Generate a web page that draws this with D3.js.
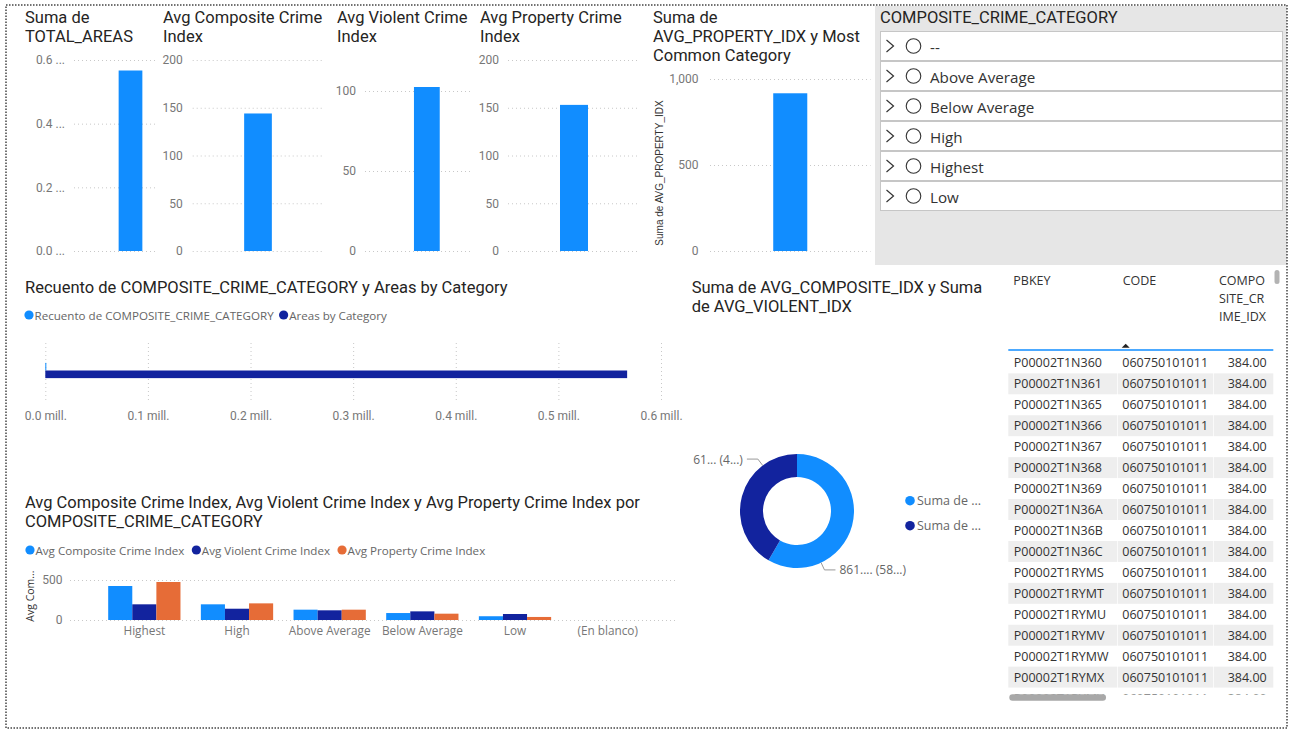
<!DOCTYPE html>
<html>
<head>
<meta charset="utf-8">
<title>Crime Index Dashboard</title>
<script src="https://cdn.jsdelivr.net/npm/d3@7"></script>
<style>
  body { margin: 0; background: #fff; }
  svg { display: block; }
  .title { font-family: Roboto, sans-serif; font-size: 16.5px; fill: #252423; }
  .tick-label { font-family: Roboto, sans-serif; font-size: 12px; fill: #777; }
  .legend-text { font-family: "Open Sans", sans-serif; font-size: 11.6px; fill: #666; }
  .cat-label { font-family: "Open Sans", sans-serif; font-size: 11.8px; fill: #777; }
  .cell { font-family: "Open Sans", sans-serif; font-size: 12.5px; fill: #333; }
</style>
</head>
<body>
<svg id="dash" width="1292" height="736"></svg>
<script>
// ---------- data ----------
const totalAreas = [0.567];          // mill.
const avgCompositeIndex = [144];
const avgViolentIndex = [102.5];
const avgPropertyIndex = [153];
const sumPropertyIdx = [917];

const areaTicks = [0, 0.2, 0.4, 0.6];
const areaTickLabels = ["0.0 ...", "0.2 ...", "0.4 ...", "0.6 ..."];
const indexTicks = [0, 50, 100, 150, 200];
const violentTicks = [0, 50, 100];
const propertySumTicks = [0, 500, 1000];

const slicerItems = ["--", "Above Average", "Below Average", "High", "Highest", "Low"];

const countSeries = ["Recuento de COMPOSITE_CRIME_CATEGORY", "Areas by Category"];
const countValues = [1000, 567000];
const millTicks = [0, 100000, 200000, 300000, 400000, 500000, 600000];

const donutSeries = ["Suma de AVG_COMPOSITE_IDX", "Suma de AVG_VIOLENT_IDX"];
const donutValues = [861, 615];
const donutLabels = ["861.... (58...)", "61... (4...)"];
const donutLegend = ["Suma de ...", "Suma de ..."];

const crimeCategories = ["Highest", "High", "Above Average", "Below Average", "Low", "(En blanco)"];
const crimeSeries = ["Avg Composite Crime Index", "Avg Violent Crime Index", "Avg Property Crime Index"];
const compositeByCat = [425, 196, 129, 87, 47, null];
const violentByCat = [196, 141, 121, 108, 75, null];
const propertyByCat = [475, 208, 129, 79, 38, null];

const tablePbkeys = ["P00002T1N360", "P00002T1N361", "P00002T1N365", "P00002T1N366", "P00002T1N367",
  "P00002T1N368", "P00002T1N369", "P00002T1N36A", "P00002T1N36B", "P00002T1N36C", "P00002T1RYMS",
  "P00002T1RYMT", "P00002T1RYMU", "P00002T1RYMV", "P00002T1RYMW", "P00002T1RYMX", "P00002T1RYMY"];
const tableCodes = ["060750101011", "060750101011", "060750101011", "060750101011", "060750101011",
  "060750101011", "060750101011", "060750101011", "060750101011", "060750101011", "060750101011",
  "060750101011", "060750101011", "060750101011", "060750101011", "060750101011", "060750101011"];
const tableIdx = [384, 384, 384, 384, 384, 384, 384, 384, 384, 384, 384, 384, 384, 384, 384, 384, 384];

const colors = ["#118DFF", "#12239E", "#E66C37"];

// ---------- helpers ----------
const svg = d3.select("#dash");

function styleAxis(g) {
  g.attr("font-family", null).attr("font-size", null);
  g.select(".domain").remove();
  g.selectAll(".tick line").attr("stroke", "#c8c8c8").attr("stroke-dasharray", "1,3");
  g.selectAll(".tick text").attr("class", "tick-label").attr("fill", null);
}

function titleLines(g, lines, x, y0) {
  lines.forEach((t, i) => {
    g.append("text").attr("class", "title").attr("x", x).attr("y", y0 + i * 19).text(t);
  });
}

// legend: dot + text, laid out left to right
function legend(g, names, x0, y, cols, gap) {
  let x = x0;
  names.forEach((n, i) => {
    g.append("circle").attr("cx", x).attr("cy", y).attr("r", 4.6).attr("fill", cols[i]);
    const t = g.append("text").attr("class", "legend-text").attr("x", x + 5.5).attr("y", y)
      .attr("dominant-baseline", "central").text(n);
    x += 5.5 + t.node().getComputedTextLength() + gap;
  });
}

// ---------- single-bar cards ----------
// plotX is the full plot area; gridEnd is where the next visual starts covering it
function cardChart(cfg) {
  const g = svg.append("g");
  titleLines(g, cfg.title, cfg.x, 22.7);

  const y = d3.scaleLinear().domain(cfg.domain).range(cfg.yRange);
  const x = d3.scaleBand().domain(["v"]).range(cfg.plotX).padding(cfg.pad);
  const gridEnd = cfg.gridEnd || cfg.plotX[1];

  const axis = d3.axisLeft(y)
    .tickValues(cfg.ticks)
    .tickSize(-(gridEnd - cfg.plotX[0]))
    .tickPadding(cfg.tickPad)
    .tickFormat((d, i) => cfg.labels ? cfg.labels[i] : d3.format(",")(d));
  const ag = g.append("g").attr("transform", `translate(${cfg.plotX[0]},0)`).call(axis);
  styleAxis(ag);

  g.selectAll("rect.bar").data(cfg.values).join("rect")
    .attr("class", "bar")
    .attr("x", x("v"))
    .attr("width", x.bandwidth())
    .attr("y", d => y(d))
    .attr("height", d => y(0) - y(d))
    .attr("fill", colors[0]);

  if (cfg.axisTitle) {
    g.append("text")
      .attr("transform", `translate(${cfg.axisTitle.x},${(cfg.yRange[0] + cfg.yRange[1]) / 2 + 8}) rotate(-90)`)
      .attr("text-anchor", "middle")
      .style("font-family", "'Liberation Sans', Arial, sans-serif")
      .style("font-size", "10px")
      .style("fill", "#333")
      .text(cfg.axisTitle.text);
  }
}

cardChart({ title: ["Suma de", "TOTAL_AREAS"], x: 25, plotX: [74, 187], gridEnd: 156, pad: 0.653,
  domain: [0, 0.6], yRange: [251, 60], ticks: areaTicks, labels: areaTickLabels, tickPad: 9, values: totalAreas });
cardChart({ title: ["Avg Composite Crime", "Index"], x: 163, plotX: [192.7, 323.3], pad: 0.65,
  domain: [0, 200], yRange: [251, 60], ticks: indexTicks, tickPad: 10, values: avgCompositeIndex });
cardChart({ title: ["Avg Violent Crime", "Index"], x: 337, plotX: [365, 488.7], gridEnd: 471.7, pad: 0.655,
  domain: [0, 100], yRange: [251, 91], ticks: violentTicks, tickPad: 9, values: avgViolentIndex });
cardChart({ title: ["Avg Property Crime", "Index"], x: 480, plotX: [508, 640], pad: 0.65,
  domain: [0, 200], yRange: [251, 60], ticks: indexTicks, tickPad: 9, values: avgPropertyIndex });
cardChart({ title: ["Suma de", "AVG_PROPERTY_IDX y Most", "Common Category"], x: 653, plotX: [710, 870.5], pad: 0.65,
  domain: [0, 1000], yRange: [251, 79], ticks: propertySumTicks, tickPad: 11.5, values: sumPropertyIdx,
  axisTitle: { x: 663, text: "Suma de AVG_PROPERTY_IDX" } });

// ---------- slicer ----------
{
  const g = svg.append("g");
  g.append("rect").attr("x", 875).attr("y", 6).attr("width", 412).attr("height", 259).attr("fill", "#e6e6e6");
  g.append("text").attr("class", "title").attr("x", 880).attr("y", 22.7).text("COMPOSITE_CRIME_CATEGORY");
  const item = g.selectAll("g.item").data(slicerItems).join("g")
    .attr("class", "item")
    .attr("transform", (d, i) => `translate(880.5,${31.5 + i * 30})`);
  item.append("rect").attr("width", 402).attr("height", 29).attr("fill", "#fff").attr("stroke", "#c6c6c6");
  item.append("path").attr("d", "M6,8.5L13,14.5L6,20.5").attr("fill", "none").attr("stroke", "#333").attr("stroke-width", 1.2);
  item.append("circle").attr("cx", 33).attr("cy", 14.5).attr("r", 7.3).attr("fill", "none").attr("stroke", "#333").attr("stroke-width", 1.1);
  item.append("text").attr("x", 49.5).attr("y", 15).attr("dominant-baseline", "central")
    .style("font-family", "'Open Sans', sans-serif").style("font-size", "15.2px").style("fill", "#333")
    .text(d => d);
}

// ---------- horizontal clustered bar ----------
{
  const g = svg.append("g");
  g.append("text").attr("class", "title").attr("x", 25).attr("y", 293.3)
    .text("Recuento de COMPOSITE_CRIME_CATEGORY y Areas by Category");
  legend(g, countSeries, 29, 315, colors, 10);

  const x = d3.scaleLinear().domain([0, 600000]).range([45.3, 661]);
  const y = d3.scaleBand().domain(["all"]).range([340, 401]).padding(0.6);
  const ys = d3.scaleBand().domain(countSeries).range([0, y.bandwidth()]);

  const ag = g.append("g").attr("transform", "translate(0,400)")
    .call(d3.axisBottom(x).tickValues(millTicks).tickSize(-60).tickPadding(11)
      .tickFormat(d => d3.format(".1f")(d / 1e6) + " mill."));
  styleAxis(ag);

  g.selectAll("rect.bar").data(countValues).join("rect")
    .attr("class", "bar")
    .attr("x", x(0))
    .attr("y", (d, i) => y("all") + ys(countSeries[i]))
    .attr("width", d => x(d) - x(0))
    .attr("height", ys.bandwidth())
    .attr("fill", (d, i) => colors[i]);
}

// ---------- donut ----------
{
  const g = svg.append("g");
  titleLines(g, ["Suma de AVG_COMPOSITE_IDX y Suma", "de AVG_VIOLENT_IDX"], 691.7, 292.7);

  const cx = 797, cy = 511, rOut = 57, rIn = 34;
  const pie = d3.pie().sort(null);
  const arc = d3.arc().innerRadius(rIn).outerRadius(rOut);
  const c = g.append("g").attr("transform", `translate(${cx},${cy})`);
  const arcs = pie(donutValues);
  c.selectAll("path").data(arcs).join("path").attr("d", arc).attr("fill", (d, i) => colors[i]);

  // leader lines: label angle (deg, clockwise from top)
  const labelAngles = [155, 323];
  labelAngles.forEach((deg, i) => {
    const a = deg * Math.PI / 180;
    const p1 = [Math.sin(a) * rOut, -Math.cos(a) * rOut];
    const p2 = [Math.sin(a) * (rOut + 8), -Math.cos(a) * (rOut + 8)];
    const side = Math.sin(a) >= 0 ? 1 : -1;
    const p3 = [p2[0] + side * 11, p2[1]];
    c.append("path").attr("d", d3.line()([p1, p2, p3])).attr("fill", "none").attr("stroke", "#999").attr("stroke-width", 1);
    c.append("text").attr("x", p3[0] + side * 4).attr("y", p3[1])
      .attr("text-anchor", side > 0 ? "start" : "end")
      .attr("dominant-baseline", "central")
      .attr("class", "legend-text").style("font-size", "12px")
      .text(donutLabels[i]);
  });

  donutLegend.forEach((n, i) => {
    g.append("circle").attr("cx", 910).attr("cy", 500.7 + i * 25).attr("r", 4.8).attr("fill", colors[i]);
    g.append("text").attr("class", "legend-text").style("font-size", "12.5px")
      .attr("x", 917).attr("y", 500.7 + i * 25).attr("dominant-baseline", "central").text(n);
  });
}

// ---------- grouped column chart ----------
{
  const g = svg.append("g");
  titleLines(g, ["Avg Composite Crime Index, Avg Violent Crime Index y Avg Property Crime Index por",
    "COMPOSITE_CRIME_CATEGORY"], 25, 508.3);
  legend(g, crimeSeries, 30, 550, colors, 12);

  const y = d3.scaleLinear().domain([0, 500]).range([620, 580]);
  const x = d3.scaleBand().domain(crimeCategories).range([98, 654]).paddingInner(0.22).paddingOuter(0.11);
  const xs = d3.scaleBand().domain(crimeSeries).range([0, x.bandwidth()]);

  const ay = g.append("g").attr("transform", "translate(70,0)")
    .call(d3.axisLeft(y).tickValues([0, 500]).tickSize(-608).tickPadding(7.5));
  styleAxis(ay);

  const ax = g.append("g").attr("transform", "translate(0,620)")
    .call(d3.axisBottom(x).tickSize(0).tickPadding(7));
  styleAxis(ax);
  ax.selectAll(".tick text").attr("class", "cat-label");

  g.append("text")
    .attr("transform", "translate(34,596) rotate(-90)")
    .attr("text-anchor", "middle")
    .style("font-family", "'Open Sans', sans-serif").style("font-size", "10.5px").style("fill", "#333")
    .text("Avg Com...");

  const seriesValues = [compositeByCat, violentByCat, propertyByCat];
  const rows = [];
  seriesValues.forEach((vals, s) => vals.forEach((v, c) => {
    if (v != null) rows.push({ cat: crimeCategories[c], s: s, v: v });
  }));
  g.selectAll("rect.bar").data(rows).join("rect")
    .attr("class", "bar")
    .attr("x", d => x(d.cat) + xs(crimeSeries[d.s]))
    .attr("width", xs.bandwidth())
    .attr("y", d => y(d.v))
    .attr("height", d => y(0) - y(d.v))
    .attr("fill", d => colors[d.s]);
}

// ---------- table ----------
{
  const g = svg.append("g");
  const colX = [1008.3, 1117.7, 1214];
  const colEnd = [1117, 1213.3, 1273.3];
  const headLines = [["PBKEY"], ["CODE"], ["COMPO", "SITE_CR", "IME_IDX"]];
  headLines.forEach((lines, c) => lines.forEach((t, j) => {
    g.append("text").attr("class", "cell").attr("x", colX[c] + 5).attr("y", 285 + j * 18).text(t);
  }));
  g.append("path").attr("d", "M1121.7,347.7L1125.7,343.7L1129.7,347.7Z").attr("fill", "#222");
  g.append("line").attr("x1", 1008.3).attr("x2", 1273.3).attr("y1", 350).attr("y2", 350)
    .attr("stroke", colors[0]).attr("stroke-width", 1.5);
  g.append("rect").attr("x", 1274.5).attr("y", 270).attr("width", 5).attr("height", 14).attr("rx", 2.5).attr("fill", "#b3b3b3");

  svg.append("clipPath").attr("id", "tbody").append("rect")
    .attr("x", 1000).attr("y", 351).attr("width", 280).attr("height", 343.5);
  const body = g.append("g").attr("clip-path", "url(#tbody)");
  const rowH = 20.95, top = 352.4;
  const rows = tablePbkeys.map((k, i) => ({ k, code: tableCodes[i], v: tableIdx[i], i }));
  const r = body.selectAll("g.row").data(rows).join("g")
    .attr("class", "row")
    .attr("transform", d => `translate(0,${top + d.i * rowH})`);
  r.filter(d => d.i % 2 === 1).each(function () {
    const row = d3.select(this);
    colX.forEach((x0, c) => {
      row.append("rect").attr("x", x0).attr("y", 0).attr("width", colEnd[c] - x0).attr("height", rowH)
        .attr("fill", "#eeeeee");
    });
  });
  r.append("text").attr("class", "cell").attr("x", colX[0] + 5.5).attr("y", rowH / 2).attr("dominant-baseline", "central").text(d => d.k);
  r.append("text").attr("class", "cell").attr("x", colX[1] + 4.6).attr("y", rowH / 2).attr("dominant-baseline", "central").text(d => d.code);
  r.append("text").attr("class", "cell").attr("x", 1266.7).attr("y", rowH / 2).attr("text-anchor", "end")
    .attr("dominant-baseline", "central").text(d => d3.format(".2f")(d.v));

  g.append("rect").attr("x", 1009.3).attr("y", 694.3).attr("width", 96.7).attr("height", 6.4).attr("rx", 3.2).attr("fill", "#a8a8a8");
}

// ---------- page border ----------
svg.append("rect").attr("x", 6).attr("y", 5).attr("width", 1281).attr("height", 723)
  .attr("fill", "none").attr("stroke", "#444").attr("stroke-width", 1.5).attr("stroke-dasharray", "1.5,1.5");
</script>
</body>
</html>
